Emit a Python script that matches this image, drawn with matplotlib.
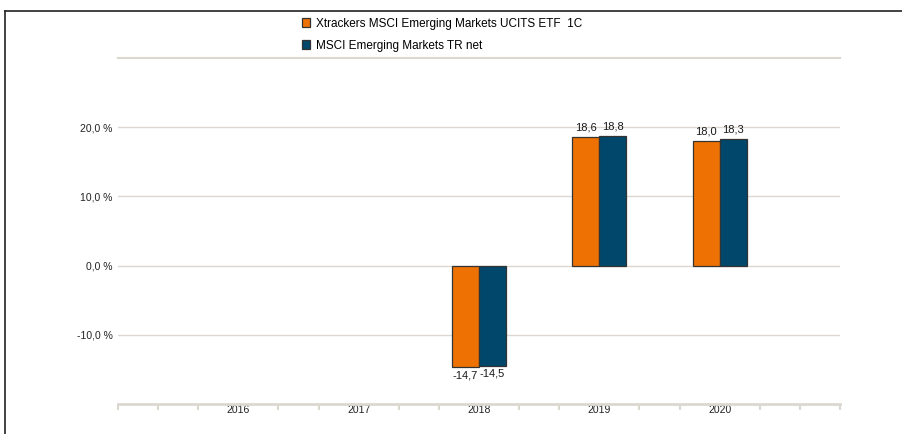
import matplotlib
matplotlib.use("Agg")
import matplotlib.pyplot as plt
import numpy as np
from matplotlib.patches import Patch
from matplotlib.lines import Line2D

plt.rcParams['font.family'] = ['Liberation Sans', 'DejaVu Sans']

# data
years = [2016, 2017, 2018, 2019, 2020]
fund = [np.nan, np.nan, -14.7, 18.6, 18.0]
index = [np.nan, np.nan, -14.5, 18.8, 18.3]
series_names = ["Xtrackers MSCI Emerging Markets UCITS ETF  1C",
                "MSCI Emerging Markets TR net"]
yticks = [-10, 0, 10, 20]
ytick_labels = ["-10,0 %", "0,0 %", "10,0 %", "20,0 %"]

c_fund = "#ee7203"
c_index = "#00476b"
c_grid = "#dcd8d0"
c_edge = "#333333"

fig = plt.figure(figsize=(9.02, 4.34), dpi=100)
ax = fig.add_axes([118/902, 1-404/434, (840-118)/902, (404-58)/434])

w = 0.225
x = np.array(years, dtype=float)
b1 = ax.bar(x - w/2, fund, w, color=c_fund, edgecolor=c_edge, linewidth=0.9, zorder=3)
b2 = ax.bar(x + w/2, index, w, color=c_index, edgecolor=c_edge, linewidth=0.9, zorder=3)

# value labels
for bars, vals in ((b1, fund), (b2, index)):
    for r, v in zip(bars, vals):
        if np.isnan(v):
            continue
        cx = r.get_x() + r.get_width()/2
        txt = f"{v:.1f}".replace('.', ',')
        if v >= 0:
            ax.annotate(txt, (cx, v), xytext=(0, 3), textcoords='offset points',
                        ha='center', va='bottom', fontsize=8, color='#1a1a1a')
        else:
            ax.annotate(txt, (cx, v), xytext=(0, -2), textcoords='offset points',
                        ha='center', va='top', fontsize=8, color='#1a1a1a')

ax.set_ylim(-20, 30)
ax.set_xlim(2015, 2021)
ax.set_yticks(yticks)
ax.set_yticklabels(ytick_labels, fontsize=7.5)
ax.set_xticks(years)
ax.set_xticklabels([str(y) for y in years], fontsize=7.5)
ax.set_xticks([2015 + k/3 for k in range(19) if k % 3 != 0 or k in (0, 18)], minor=True)
ax.tick_params(axis='y', length=0, pad=4, colors='#222222')
ax.tick_params(axis='x', which='major', length=0, pad=1, colors='#222222')
ax.tick_params(axis='x', which='minor', length=4, width=1.5, color=c_grid)

ax.grid(axis='y', color=c_grid, linewidth=1, zorder=0)
for s in ('left', 'right'):
    ax.spines[s].set_visible(False)
ax.spines['top'].set_color(c_grid)
ax.spines['top'].set_linewidth(1.5)
ax.spines['bottom'].set_color(c_grid)
ax.spines['bottom'].set_linewidth(2)

# legend
handles = [Patch(facecolor=c_fund, edgecolor=c_edge, linewidth=0.9),
           Patch(facecolor=c_index, edgecolor=c_edge, linewidth=0.9)]
fig.legend(handles, series_names, loc='upper left', bbox_to_anchor=(298/902, 1-14/434),
           frameon=False, fontsize=8.5, handlelength=0.75, handleheight=0.75,
           handletextpad=0.45, labelspacing=0.85, borderaxespad=0, borderpad=0.3)

# frame border lines
fig.add_artist(Line2D([5/902, 5/902], [0, 1-11/434], color='#222222', linewidth=1.2,
                      transform=fig.transFigure))
fig.add_artist(Line2D([5/902, 1], [1-11/434, 1-11/434], color='#222222', linewidth=1.2,
                      transform=fig.transFigure))

fig.savefig("out.png", dpi=100)
